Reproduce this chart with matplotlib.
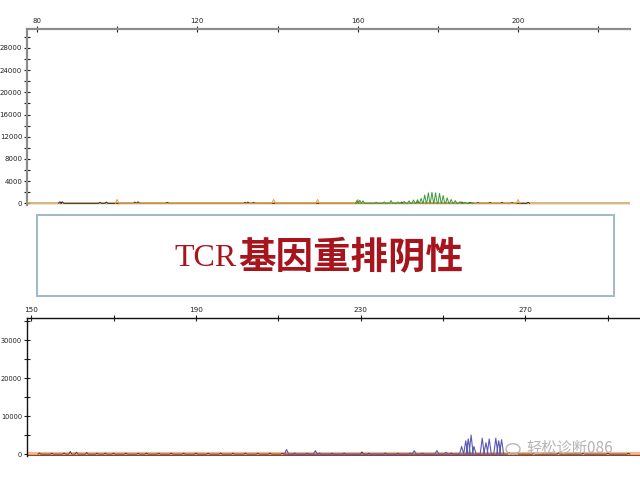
import numpy as np
import matplotlib
matplotlib.use("Agg")
import matplotlib.pyplot as plt
from matplotlib.patches import Rectangle, Circle
from matplotlib.ticker import MultipleLocator, FixedLocator

# top electropherogram (size in bp, height in RFU)
top_green_pos = [159.8, 160.5, 161.3, 164.6, 166.6, 168.3, 170.0, 171.6, 172.8, 173.9,
                 174.9, 175.8, 176.7, 177.6, 178.5, 179.4, 180.4, 181.3, 182.3, 183.3,
                 184.3, 185.5, 186.8, 188.5]
top_green_h = [500, 550, 450, 200, 250, 500, 250, 350, 450, 600,
               650, 900, 1500, 1900, 2000, 1900, 1800, 1400, 1000, 700,
               500, 300, 200, 100]
top_black_pos = [85.7, 86.3, 95.7, 97.3, 104.4, 105.2, 112.5, 131.9, 132.6, 134.0,
                 160.0, 171.0, 175.0, 186.0, 188.0, 190.0, 193.0, 196.0, 198.5, 202.5]
top_black_h = [300, 300, 200, 250, 250, 300, 200, 200, 250, 200,
               300, 250, 300, 250, 200, 150, 200, 200, 150, 200]
ladder_pos = [100, 139, 150, 160, 200]
ladder_h = [700, 700, 700, 700, 700]
top_xticks = [80, 120, 160, 200]
top_xminor = [100, 140, 180, 220]

# bottom electropherogram
bot_blue_pos = [254.5, 255.5, 256.1, 256.8, 257.5, 259.5, 260.4, 261.2, 262.8, 263.5, 264.2,
                212.0, 219.0, 243.0, 248.5, 250.7]
bot_blue_h = [2000, 3500, 4000, 5000, 2000, 4200, 3000, 4000, 4200, 3500, 3800,
              1200, 900, 900, 900, 500]
bot_black_pos = [152, 155, 158, 159.5, 161, 163.5, 166, 168, 170, 173, 176, 178, 181, 184,
                 187, 190, 193, 196, 199, 202, 205, 208, 211, 214, 217, 220, 223, 226,
                 230.3, 232, 236, 239, 242, 245, 252, 266, 268, 272, 278, 284, 290, 295]
bot_black_h = [300, 250, 300, 700, 500, 400, 250, 300, 250, 300, 250, 300, 250, 300,
               250, 300, 250, 300, 250, 300, 250, 300, 250, 300, 250, 300, 250, 300,
               600, 250, 300, 250, 300, 250, 300, 400, 300, 250, 300, 250, 300, 250]
bot_xticks = [150, 190, 230, 270]
bot_xminor = [170, 210, 250, 290]


def peaks(ax, pos, h, w, **kw):
    pos = np.asarray(pos, float)
    h = np.asarray(h, float)
    order = np.argsort(pos)
    pos, h = pos[order], h[order]
    xs = np.column_stack([pos - w, pos, pos + w]).ravel()
    ys = np.column_stack([np.zeros_like(h), h, np.zeros_like(h)]).ravel()
    ax.plot(xs, ys, **kw)


def style_axis(ax, col, lw, fs):
    ax.xaxis.tick_top()
    for s in ["right", "bottom"]:
        ax.spines[s].set_visible(False)
    for s in ["top", "left"]:
        ax.spines[s].set_color(col)
        ax.spines[s].set_linewidth(lw)
    ax.tick_params(which="both", direction="inout", length=5, width=0.8,
                   colors="#222222", labelsize=fs, pad=1)
    ax.tick_params(axis="x", which="both", top=True, bottom=False)


fig = plt.figure(figsize=(6.4, 4.8), dpi=100)
W, H = 640.0, 480.0

# ---- top panel
ax1 = fig.add_axes([27 / W, 1 - 205 / H, 603 / W, 176 / H])
ax1.set_xlim(77.5, 227.9)
ax1.set_ylim(-300, 31400)
style_axis(ax1, "#8c8c8c", 1.6, 5)
ax1.xaxis.set_major_locator(FixedLocator(top_xticks))
ax1.xaxis.set_minor_locator(FixedLocator(top_xminor))
ax1.yaxis.set_major_locator(MultipleLocator(4000))
ax1.yaxis.set_minor_locator(MultipleLocator(2000))
ax1.axhline(0, color="#d8a860", lw=1.2)
ax1.axhline(-250, color="#333333", lw=0.9)
peaks(ax1, top_black_pos, top_black_h, 0.35, color="#222222", lw=0.6)
peaks(ax1, ladder_pos, ladder_h, 0.45, color="#e6a040", lw=0.7)
peaks(ax1, top_green_pos, top_green_h, 0.4, color="#3a9a3a", lw=0.7)

# ---- caption box
fig.patches.append(Rectangle((37 / W, 1 - 296 / H), 577 / W, 81 / H,
                             transform=fig.transFigure, fill=False,
                             edgecolor="#9fb8c8", lw=1.4))
red = "#a8141c"
fig.text(237 / W, 1 - 258 / H, "TCR", ha="right", va="center",
         family="Liberation Serif", fontsize=23, color=red)
fig.text(238 / W, 1 - 258 / H, "基因重排阴性", ha="left", va="center",
         family=["Noto Sans CJK SC", "DejaVu Sans"], fontweight="bold",
         fontsize=27, color=red)

# ---- bottom panel
ax2 = fig.add_axes([27 / W, 1 - 456 / H, 613 / W, 138 / H])
ax2.set_xlim(149, 297.8)
ax2.set_ylim(-500, 35800)
style_axis(ax2, "#111111", 1.0, 5.2)
ax2.tick_params(axis="y", labelsize=4.8)
ax2.xaxis.set_major_locator(FixedLocator(bot_xticks))
ax2.xaxis.set_minor_locator(FixedLocator(bot_xminor))
ax2.yaxis.set_major_locator(MultipleLocator(10000))
ax2.yaxis.set_minor_locator(MultipleLocator(5000))
ax2.axhline(0, color="#f5b880", lw=3)
ax2.axhline(-200, color="#9a3a3a", lw=0.9)
peaks(ax2, bot_black_pos, bot_black_h, 0.35, color="#333333", lw=0.6)
peaks(ax2, bot_blue_pos, bot_blue_h, 0.5, color="#5a5ab4", lw=0.8)

# watermark
fig.patches.append(Circle((513 / W, 1 - 449 / H), 7 / W, transform=fig.transFigure,
                          fill=False, edgecolor="#b8b8b8", lw=1))
fig.text(526 / W, 1 - 448 / H, "轻松诊断086", ha="left", va="center",
         family=["Noto Sans CJK SC", "DejaVu Sans"], fontsize=11, color="#b4b4b4")

fig.savefig("out.png", dpi=100, facecolor="white")
